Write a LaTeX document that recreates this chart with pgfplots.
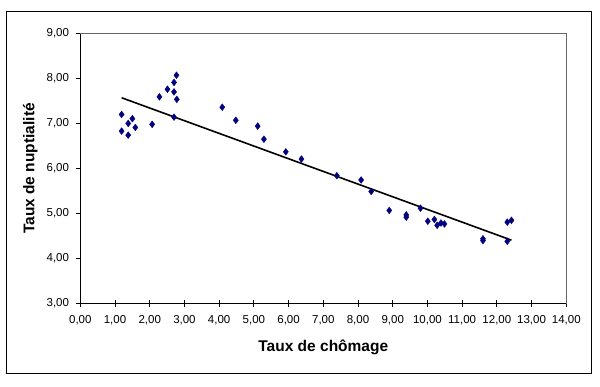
\documentclass[border=0pt]{standalone}
\usepackage{pgfplots}
\pgfplotsset{compat=1.18}
\usepackage{fontspec}
\setmainfont{Liberation Sans}
\definecolor{navy}{HTML}{000080}
\begin{document}
\begin{tikzpicture}[x=1pt,y=1pt]
\useasboundingbox (0,0) rectangle (600,386);
\draw[black, line width=1pt] (6,12.7) rectangle (591,374);
\begin{axis}[
  at={(80.3pt,82.3pt)}, anchor=south west,
  scale only axis, width=486pt, height=270.4pt,
  xmin=0, xmax=14, ymin=3, ymax=9,
  xtick={0,1,...,14}, ytick={3,4,...,9},
  axis x line*=bottom, axis y line*=left,
  axis line style={black, line width=0.8pt, -},
  x tick style={black, line width=0.8pt, /pgfplots/major tick length=7pt},
  y tick style={black, line width=0.8pt, /pgfplots/major tick length=4pt},
  xtick align=center, ytick align=outside,
  x tick label style={font=\fontsize{11.5}{13}\selectfont, yshift=-6pt},
  y tick label style={font=\fontsize{11.5}{13}\selectfont, xshift=-3.5pt},
  /pgf/number format/.cd, fixed, zerofill, precision=2, use comma, assume math mode=true,
  /pgfplots/.cd,
  xlabel={Taux de chômage},
  ylabel={Taux de nuptialité},
  xlabel style={font=\bfseries\fontsize{15.5}{18}\selectfont, at={(axis description cs:0.5,-0.162)}, anchor=center},
  ylabel style={font=\bfseries\fontsize{15.5}{18}\selectfont, at={(axis description cs:-0.103,0.5)}, anchor=center},
  clip=false,
]
\draw[gray!80!black, line width=0.8pt] (rel axis cs:0,1) -- (rel axis cs:1,1) -- (rel axis cs:1,0);
\addplot[only marks, mark=diamond*, mark size=3.4pt, color=navy] coordinates {
(1.19,7.20) (1.19,6.83) (1.38,7.00) (1.50,7.105) (1.585,6.91) (1.38,6.74)
(2.07,6.98) (2.28,7.59) (2.51,7.76) (2.70,7.91) (2.77,8.07) (2.70,7.70)
(2.78,7.535) (2.70,7.14) (4.09,7.36) (4.48,7.07) (5.11,6.94) (5.29,6.65)
(5.92,6.37) (6.37,6.21) (7.39,5.84) (8.09,5.745) (8.38,5.49) (8.90,5.07)
(9.39,4.97) (9.39,4.92) (9.80,5.12) (10.01,4.83) (10.20,4.87) (10.28,4.74)
(10.39,4.79) (10.49,4.77) (11.60,4.44) (11.60,4.40) (12.30,4.385)
(12.30,4.81) (12.42,4.85)
};
\addplot[black, line width=1.6pt, no marks] coordinates {(1.19,7.57) (12.42,4.41)};
\end{axis}
\end{tikzpicture}
\end{document}
